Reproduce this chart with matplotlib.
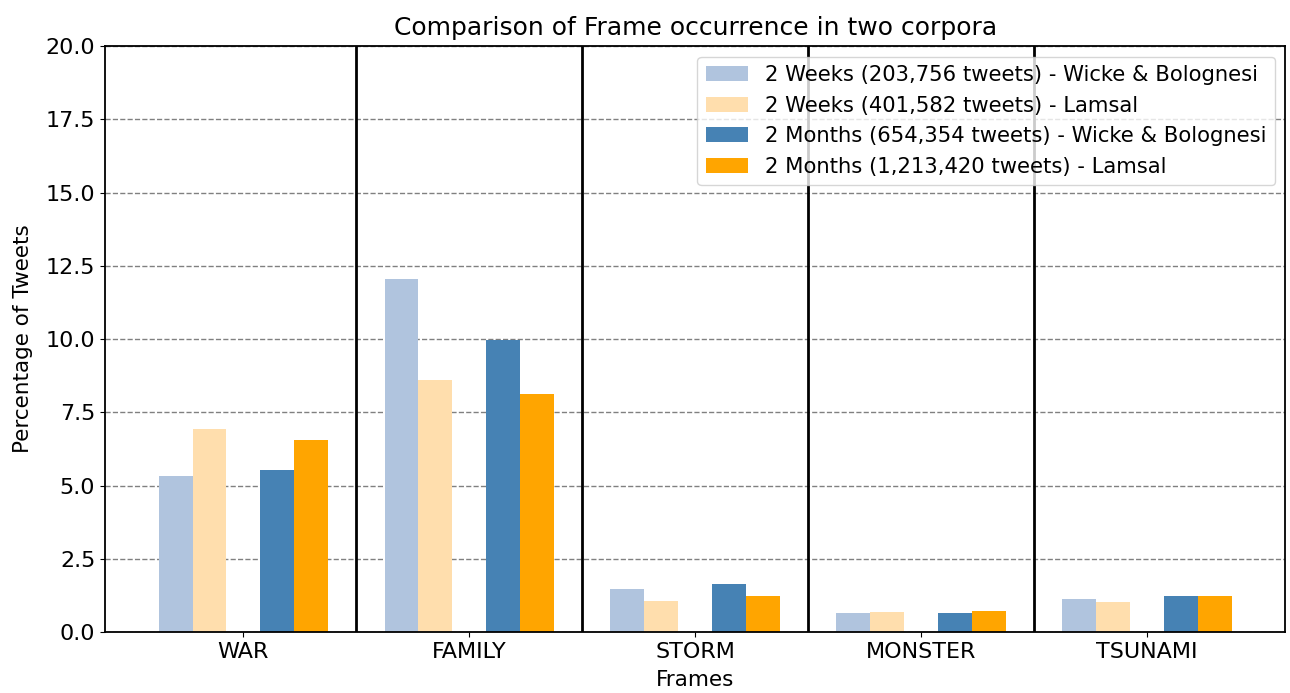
import matplotlib
matplotlib.use("Agg")
import matplotlib.pyplot as plt
import numpy as np

frames = ["WAR", "FAMILY", "STORM", "MONSTER", "TSUNAMI"]
series_labels = [
    "2 Weeks (203,756 tweets) - Wicke & Bolognesi",
    "2 Weeks (401,582 tweets) - Lamsal",
    "2 Months (654,354 tweets) - Wicke & Bolognesi",
    "2 Months (1,213,420 tweets) - Lamsal",
]
weeks_wb = [5.31, 12.05, 1.47, 0.66, 1.11]
weeks_lamsal = [6.93, 8.60, 1.05, 0.67, 1.03]
months_wb = [5.54, 9.95, 1.65, 0.66, 1.24]
months_lamsal = [6.55, 8.14, 1.22, 0.71, 1.23]
colors = ["lightsteelblue", "navajowhite", "steelblue", "orange"]

fig = plt.figure(figsize=(12.9, 6.93), dpi=100)
ax = fig.add_axes([0.0814, 0.088, 0.915, 0.8456])

x = np.arange(len(frames))
w = 0.15
offsets = [-0.3, -0.15, 0.15, 0.3]
for vals, off, col, lab in zip([weeks_wb, weeks_lamsal, months_wb, months_lamsal],
                                offsets, colors, series_labels):
    ax.bar(x + off, vals, width=w, color=col, label=lab, zorder=2)

for i in range(len(frames) - 1):
    ax.axvline(i + 0.5, color="black", lw=2, zorder=3)

ax.set_ylim(0, 20)
ax.set_yticks(np.arange(0, 20.1, 2.5))
ax.set_xticks(x)
ax.set_xticklabels(frames)
ax.tick_params(labelsize=16)
ax.yaxis.grid(True, linestyle="--", color="gray", lw=1)
ax.set_axisbelow(True)
for s in ax.spines.values():
    s.set_linewidth(1.3)

ax.set_xlabel("Frames", fontsize=15.5, labelpad=6)
ax.set_ylabel("Percentage of Tweets", fontsize=15.5)
ax.yaxis.set_label_coords(-0.061, 0.5)
ax.set_title("Comparison of Frame occurrence in two corpora", fontsize=18, pad=8)
ax.legend(loc="upper right", fontsize=15.2, borderaxespad=0.5)

fig.savefig("out.png", dpi=100)
